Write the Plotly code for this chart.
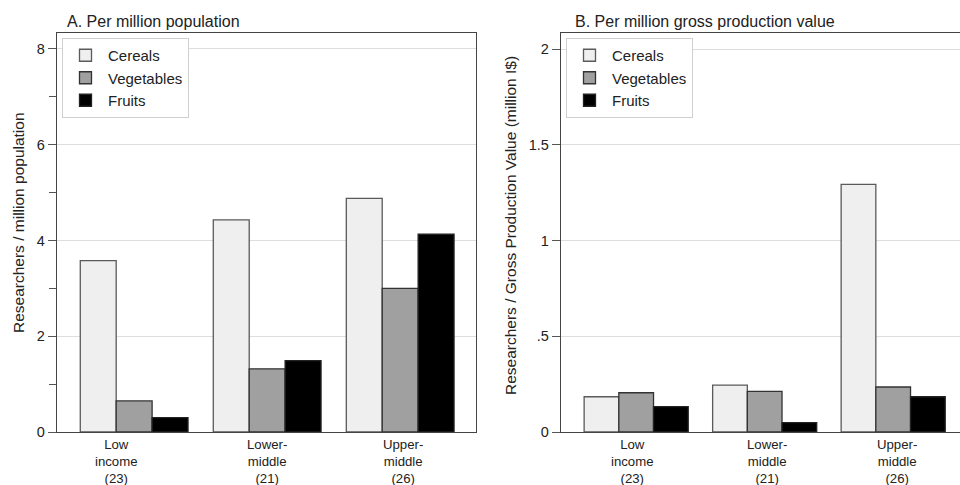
import plotly.graph_objects as go

# ---- data ----
group_pos = [0, 1, 2]
group_labels = ["Low<br>income<br>(23)", "Lower-<br>middle<br>(21)", "Upper-<br>middle<br>(26)"]
series_names = ["Cereals", "Vegetables", "Fruits"]

pop_cereals = [3.58, 4.43, 4.88]
pop_vegetables = [0.65, 1.32, 3.00]
pop_fruits = [0.30, 1.49, 4.13]

gpv_cereals = [0.184, 0.245, 1.293]
gpv_vegetables = [0.205, 0.212, 0.235]
gpv_fruits = [0.132, 0.049, 0.184]

a_ticks = [0, 2, 4, 6, 8]
a_ticklabels = ["0", "2", "4", "6", "8"]
a_minor_ticks = [1, 3, 5, 7]
b_ticks = [0, 0.5, 1, 1.5, 2]
b_ticklabels = ["0", ".5", "1", "1.5", "2"]

title_a = "A. Per million population"
title_b = "B. Per million gross production value"
ytitle_a = "Researchers / million population"
ytitle_b = "Researchers / Gross Production Value (million I$)"

# ---- style ----
fills = ["#efefef", "#a0a0a0", "#000000"]
lines = ["#5a5a5a", "#333333", "#222222"]
FONT = "Liberation Sans, Arial, sans-serif"
TXT = "#222222"

fig = go.Figure()
for name, vals, fc, lc in zip(series_names, [pop_cereals, pop_vegetables, pop_fruits], fills, lines):
    fig.add_trace(go.Bar(x=group_pos, y=vals, name=name, marker=dict(color=fc, line=dict(color=lc, width=1.3)),
                         xaxis="x", yaxis="y", offsetgroup=name, legend="legend"))
for name, vals, fc, lc in zip(series_names, [gpv_cereals, gpv_vegetables, gpv_fruits], fills, lines):
    fig.add_trace(go.Bar(x=group_pos, y=vals, name=name, marker=dict(color=fc, line=dict(color=lc, width=1.3)),
                         xaxis="x2", yaxis="y2", offsetgroup=name, legend="legend2"))

W, H = 960, 485
def px_x(p): return p / W
def px_y(p): return 1 - p / H

axis_common = dict(showgrid=False, zeroline=False, showline=True, linecolor="#444444", linewidth=1.3,
                   ticks="", showticklabels=False, automargin=False)
yaxis_common = dict(showgrid=True, gridcolor="#dedede", gridwidth=1.1, zeroline=False, showline=True,
                    linecolor="#444444", linewidth=1.3, ticks="outside", ticklen=8, tickcolor="#555555",
                    tickwidth=1, automargin=False,
                    tickfont=dict(family=FONT, size=14.5, color=TXT))

legend_common = dict(xanchor="left", yanchor="top", bgcolor="white", bordercolor="#d0d0d0", borderwidth=1,
                     font=dict(family=FONT, size=15, color=TXT), tracegroupgap=0, itemwidth=35)

# x category labels (one text block per group)
a_label_x = [-0.13, 1.0, 2.02]
b_label_x = [-0.03, 1.02, 2.03]
annotations = []
for xref, xs in (("x", a_label_x), ("x2", b_label_x)):
    for xv, lbl in zip(xs, group_labels):
        annotations.append(dict(text=lbl, x=xv, y=px_y(461), xref=xref, yref="paper",
                                xanchor="center", yanchor="middle", showarrow=False,
                                font=dict(family=FONT, size=13.2, color=TXT)))

annotations += [
    dict(text=title_a, x=px_x(65), y=px_y(22), xref="paper", yref="paper",
         xanchor="left", yanchor="middle", showarrow=False, font=dict(family=FONT, size=16, color=TXT)),
    dict(text=title_b, x=px_x(573), y=px_y(22), xref="paper", yref="paper",
         xanchor="left", yanchor="middle", showarrow=False, font=dict(family=FONT, size=16, color=TXT)),
    dict(text=ytitle_a, x=px_x(19), y=px_y(223), xref="paper", yref="paper", textangle=-90,
         xanchor="center", yanchor="middle", showarrow=False, font=dict(family=FONT, size=15.5, color=TXT)),
    dict(text=ytitle_b, x=px_x(510), y=px_y(226), xref="paper", yref="paper", textangle=-90,
         xanchor="center", yanchor="middle", showarrow=False, font=dict(family=FONT, size=15.5, color=TXT)),
]

fig.update_layout(
    width=W, height=H, margin=dict(l=0, r=0, t=0, b=0),
    paper_bgcolor="white", plot_bgcolor="white",
    barmode="group", bargap=0.19, bargroupgap=0,
    font=dict(family=FONT, size=15, color=TXT),
    xaxis=dict(axis_common, domain=[px_x(57), px_x(476)], range=[-0.58, 2.57], mirror=True, anchor="y"),
    yaxis=dict(yaxis_common, domain=[px_y(432), px_y(33)], range=[0, 8.334], mirror=True,
               tickvals=a_ticks, ticktext=a_ticklabels, anchor="x",
               minor=dict(tickvals=a_minor_ticks, ticks="outside", ticklen=7, tickcolor="#555555",
                          showgrid=False)),
    xaxis2=dict(axis_common, domain=[px_x(561), 1.0], range=[-0.585, 2.52], mirror=True, anchor="y2"),
    yaxis2=dict(yaxis_common, domain=[px_y(432), px_y(33)], range=[0, 2.0836], mirror=False,
                tickvals=b_ticks, ticktext=b_ticklabels, anchor="x2"),
    legend=dict(legend_common, x=px_x(62), y=px_y(38)),
    legend2=dict(legend_common, x=px_x(566), y=px_y(38)),
    annotations=annotations,
)

fig.write_html("out.html")
